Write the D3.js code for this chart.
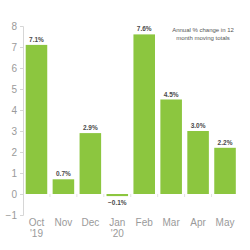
<!DOCTYPE html>
<html>
<head>
<meta charset="utf-8">
<script src="https://cdn.jsdelivr.net/npm/d3@7"></script>
<style>
  body { margin: 0; background: #fff; }
  svg { display: block; font-family: "Liberation Sans", Arial, sans-serif; }
</style>
</head>
<body>
<svg width="250" height="250"></svg>
<script>
const months = ["Oct", "Nov", "Dec", "Jan", "Feb", "Mar", "Apr", "May"]
const years = ["'19", "", "", "'20", "", "", "", ""]
const changes = [7.1, 0.7, 2.9, -0.1, 7.6, 4.5, 3.0, 2.2]
const yTicks = [-1, 0, 1, 2, 3, 4, 5, 6, 7, 8]
const NOTE_LINES = ["Annual % change in 12", "month moving totals"]

const BAR_COLOR = "#8cc63f"
const AXIS_COLOR = "#d6d6d6"
const TICK_TEXT = "#9a9a9a"

const data = months.map((m, i) => ({ month: m, year: years[i], value: changes[i] }))

const svg = d3.select("svg")

const x = d3.scaleBand()
    .domain(months)
    .range([23, 238.5])
    .paddingInner(0.2)
    .paddingOuter(0.1);

const y = d3.scaleLinear()
    .domain([-1, 8])
    .range([215, 26]);

// y axis
const yAxis = svg.append("g")
    .attr("transform", "translate(23,0)")
    .call(d3.axisLeft(y).tickValues(yTicks).tickSize(3).tickPadding(3).tickFormat(d3.format("d")));
yAxis.select(".domain").attr("stroke", AXIS_COLOR);
yAxis.selectAll(".tick line").attr("stroke", AXIS_COLOR);
yAxis.selectAll(".tick text")
    .attr("fill", TICK_TEXT)
    .style("font-size", "10px")
    .style("font-family", "'Liberation Sans', Arial, sans-serif");

// faint tick marks between bars on the zero line
const bounds = months.slice(1).map(m => x(m) - x.step() * x.paddingInner() / 2);
svg.append("g")
    .selectAll("line")
    .data(bounds)
    .join("line")
    .attr("x1", d => d).attr("x2", d => d)
    .attr("y1", y(0)).attr("y2", y(0) + 3)
    .attr("stroke", "#e2e2e2");

// bars
svg.append("g")
    .selectAll("rect")
    .data(data)
    .join("rect")
    .attr("x", d => x(d.month))
    .attr("width", x.bandwidth())
    .attr("y", d => y(Math.max(0, d.value)))
    .attr("height", d => Math.abs(y(d.value) - y(0)))
    .attr("fill", BAR_COLOR);

// value labels
svg.append("g")
    .selectAll("text")
    .data(data)
    .join("text")
    .attr("x", d => x(d.month) + x.bandwidth() / 2)
    .attr("y", d => d.value >= 0 ? y(d.value) - 3 : y(d.value) + 9)
    .attr("text-anchor", "middle")
    .attr("fill", "#4a4a4a")
    .style("font-size", "6.5px")
    .style("font-weight", "bold")
    .text(d => d3.format(".1f")(d.value) + "%");

// month labels
const xl = svg.append("g")
    .selectAll("text")
    .data(data)
    .join("text")
    .attr("x", d => x(d.month) + x.bandwidth() / 2)
    .attr("y", 226)
    .attr("text-anchor", "middle")
    .attr("fill", TICK_TEXT)
    .style("font-size", "10px");
xl.append("tspan").text(d => d.month);
xl.append("tspan")
    .attr("x", d => x(d.month) + x.bandwidth() / 2)
    .attr("dy", 11)
    .text(d => d.year);

// note
svg.append("text")
    .attr("x", 203)
    .attr("y", 32)
    .attr("text-anchor", "middle")
    .attr("fill", "#555")
    .style("font-size", "6px")
    .selectAll("tspan")
    .data(NOTE_LINES)
    .join("tspan")
    .attr("x", 203)
    .attr("dy", (d, i) => i ? 7.5 : 0)
    .text(d => d);
</script>
</body>
</html>
